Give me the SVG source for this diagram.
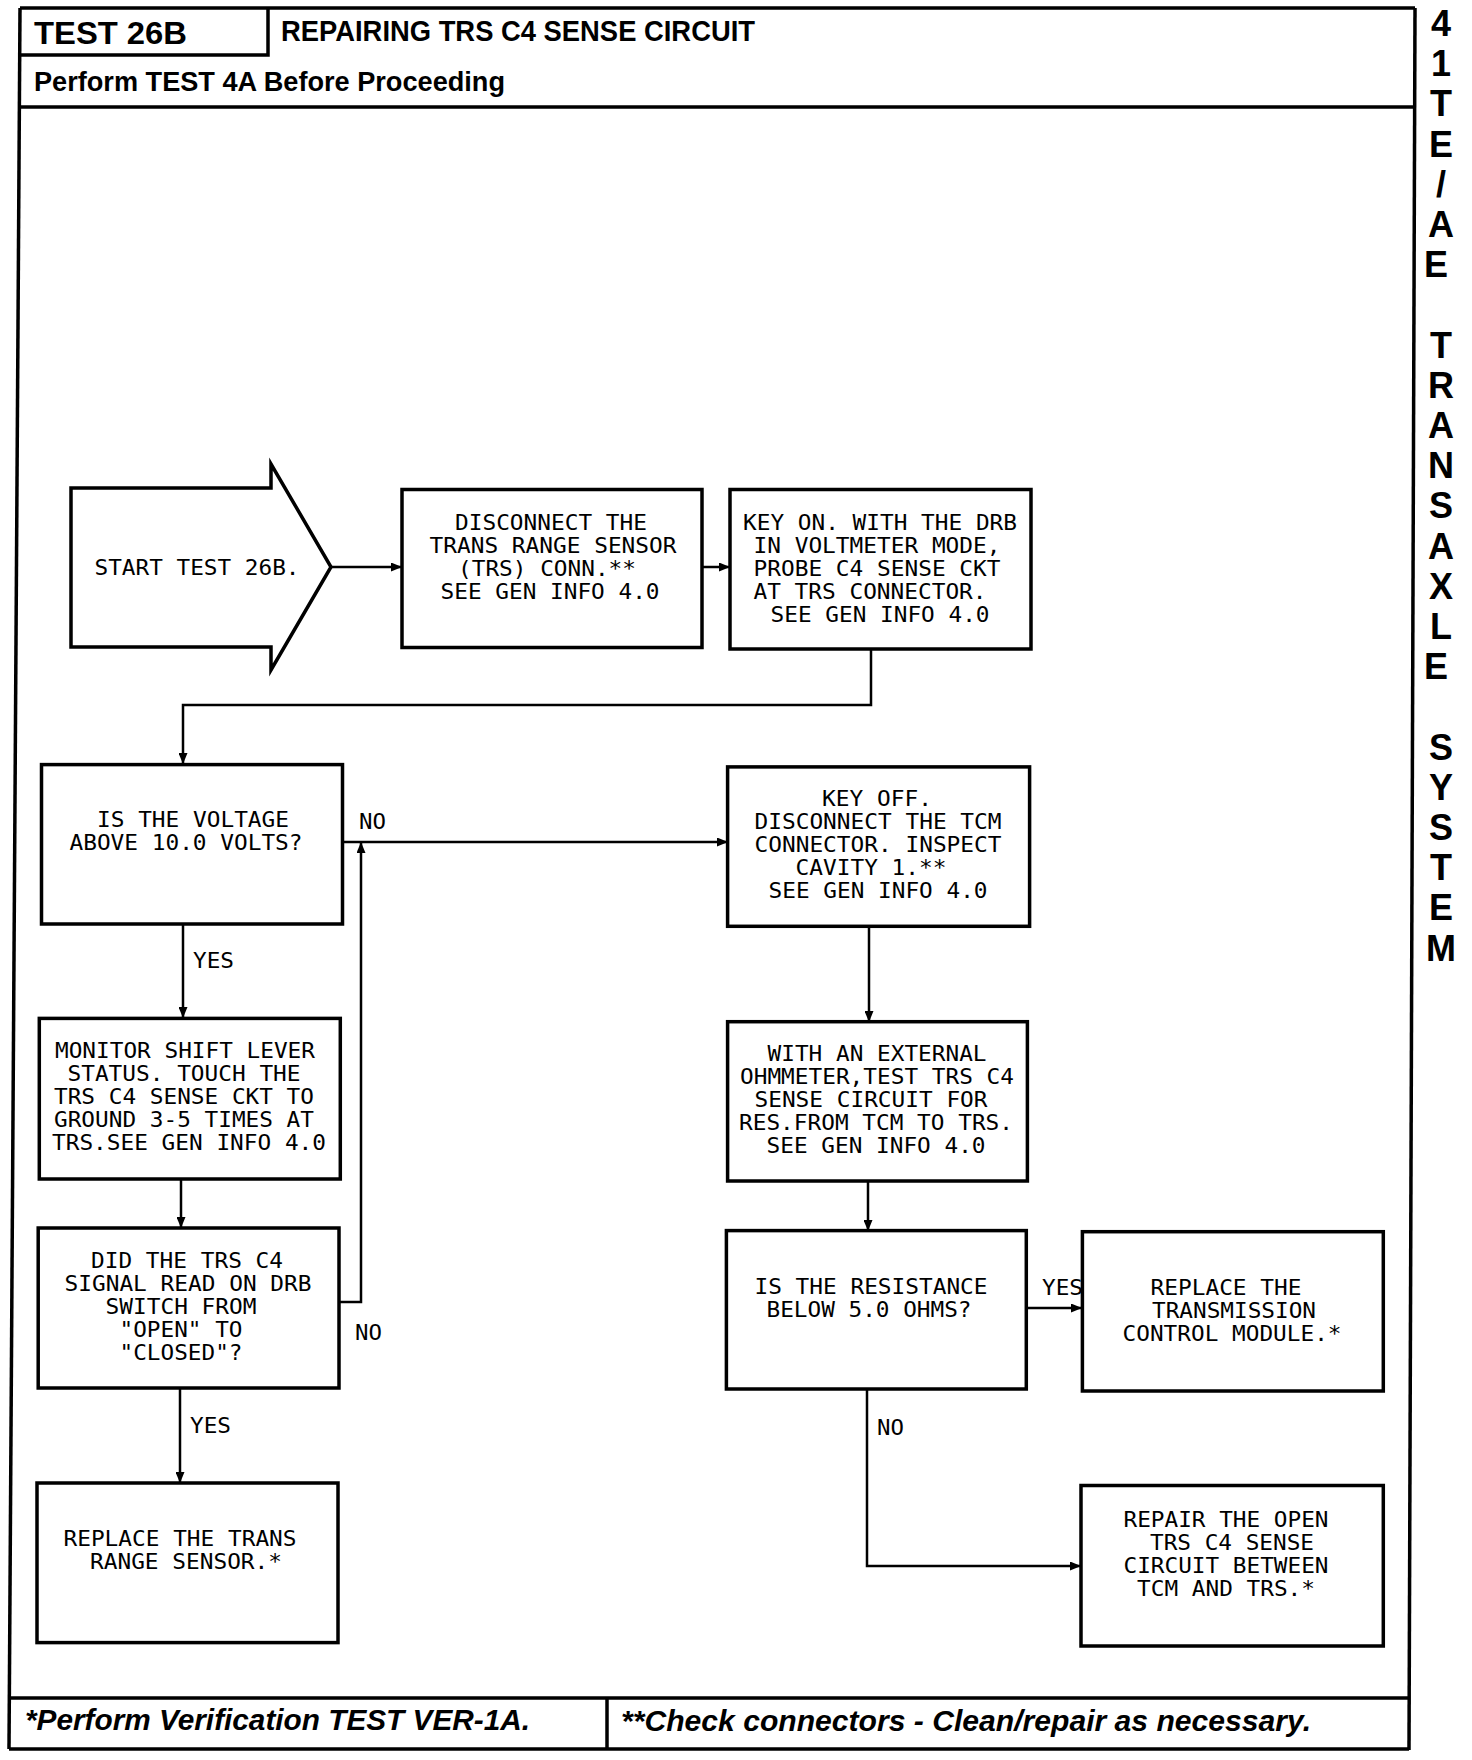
<svg xmlns="http://www.w3.org/2000/svg" width="1472" height="1760" viewBox="0 0 1472 1760">
<defs>
<style>
.frame{fill:none;stroke:#000;stroke-width:3.5}
.box{fill:#fff;stroke:#000;stroke-width:3.5}
.c{fill:none;stroke:#000;stroke-width:2.5}
.t{font-family:"DejaVu Sans Mono","Liberation Mono",monospace;font-size:22px;text-anchor:middle;fill:#000}
.l{font-family:"DejaVu Sans Mono","Liberation Mono",monospace;font-size:22px;fill:#000}
.hb{font-family:"Liberation Sans",Arial,sans-serif;font-weight:bold;fill:#000}
.fi{font-family:"Liberation Sans",Arial,sans-serif;font-weight:bold;font-style:italic;font-size:29px;fill:#000}
.side{font-family:"Liberation Sans",Arial,sans-serif;font-weight:bold;font-size:36px;text-anchor:middle;fill:#000}
</style>
<marker id="ah" markerWidth="11" markerHeight="9" refX="10" refY="4.5" orient="auto" markerUnits="userSpaceOnUse"><path d="M0,0 L11,4.5 L0,9 z" fill="#000"/></marker>
</defs>
<rect width="1472" height="1760" fill="#fff"/>

<g id="frame">
<path class="frame" d="M20,8 H1415"/>
<path class="frame" d="M20,8 L9,1749"/>
<path class="frame" d="M1415,8 L1409,1750"/>
<path class="frame" d="M268,8 V55 H20"/>
<path class="frame" stroke-width="4.5" d="M19,107 H1415"/>
<path class="frame" stroke-width="4.5" d="M9,1698 H1410"/>
<path class="frame" stroke-width="4" d="M9,1749 H1409"/>
<path class="frame" stroke-width="2.5" d="M607,1698 V1749"/>
</g>

<g id="header">
<text class="hb" x="34" y="44" font-size="32" textLength="153" lengthAdjust="spacingAndGlyphs">TEST 26B</text>
<text class="hb" x="281" y="41" font-size="29" textLength="474" lengthAdjust="spacingAndGlyphs">REPAIRING TRS C4 SENSE CIRCUIT</text>
<text class="hb" x="34" y="91" font-size="27" textLength="471" lengthAdjust="spacingAndGlyphs">Perform TEST 4A Before Proceeding</text>
</g>

<g id="side-title">
<text class="side">
<tspan x="1441" y="36">4</tspan><tspan x="1441" y="76">1</tspan><tspan x="1441" y="116">T</tspan><tspan x="1441" y="157">E</tspan><tspan x="1441" y="197">/</tspan><tspan x="1441" y="237">A</tspan><tspan x="1441" y="277">E</tspan>
<tspan x="1441" y="358">T</tspan><tspan x="1441" y="398">R</tspan><tspan x="1441" y="438">A</tspan><tspan x="1441" y="478">N</tspan><tspan x="1441" y="518">S</tspan><tspan x="1441" y="559">A</tspan><tspan x="1441" y="599">X</tspan><tspan x="1441" y="639">L</tspan><tspan x="1441" y="679">E</tspan>
<tspan x="1441" y="760">S</tspan><tspan x="1441" y="800">Y</tspan><tspan x="1441" y="840">S</tspan><tspan x="1441" y="880">T</tspan><tspan x="1441" y="920">E</tspan><tspan x="1441" y="961">M</tspan>
</text>
</g>

<g id="footer">
<text class="fi" x="25" y="1730" textLength="505" lengthAdjust="spacingAndGlyphs">*Perform Verification TEST VER-1A.</text>
<text class="fi" x="621" y="1731" textLength="690" lengthAdjust="spacingAndGlyphs">**Check connectors - Clean/repair as necessary.</text>
</g>

<g id="connectors">
<path class="c" d="M331,567 H401" marker-end="url(#ah)"/>
<path class="c" stroke-width="3.5" d="M702,567 H729" marker-end="url(#ah)"/>
<path class="c" d="M871,649 V705 H183 V763" marker-end="url(#ah)"/>
<path class="c" d="M343,842 H727" marker-end="url(#ah)"/>
<path class="c" d="M183,924 V1017" marker-end="url(#ah)"/>
<path class="c" d="M181,1179 V1227" marker-end="url(#ah)"/>
<path class="c" d="M339,1302 H361 V843" marker-end="url(#ah)"/>
<path class="c" d="M180,1388 V1482" marker-end="url(#ah)"/>
<path class="c" d="M869,926 V1021" marker-end="url(#ah)"/>
<path class="c" d="M868,1181 V1230" marker-end="url(#ah)"/>
<path class="c" stroke-width="3.5" d="M1026,1308 H1081" marker-end="url(#ah)"/>
<path class="c" stroke-width="3" d="M867,1389 V1566 H1080" marker-end="url(#ah)"/>
<text class="l" x="359" y="829" textLength="27" lengthAdjust="spacingAndGlyphs">NO</text>
<text class="l" x="193" y="968" textLength="41" lengthAdjust="spacingAndGlyphs">YES</text>
<text class="l" x="355" y="1340" textLength="27" lengthAdjust="spacingAndGlyphs">NO</text>
<text class="l" x="190" y="1433" textLength="41" lengthAdjust="spacingAndGlyphs">YES</text>
<text class="l" x="1042" y="1295" textLength="41" lengthAdjust="spacingAndGlyphs">YES</text>
<text class="l" x="877" y="1435" textLength="27" lengthAdjust="spacingAndGlyphs">NO</text>
</g>

<g id="start">
<polygon class="box" points="71,488 271,488 271,464 331,567 271,670 271,647 71,647"/>
<text class="t" x="197" y="575" textLength="205" lengthAdjust="spacingAndGlyphs">START TEST 26B.</text>
</g>

<g id="disconnect-trs">
<rect class="box" x="402" y="489.5" width="300" height="158"/>
<text class="t" x="551" y="530" textLength="192" lengthAdjust="spacingAndGlyphs">DISCONNECT THE</text>
<text class="t" x="553" y="553" textLength="247" lengthAdjust="spacingAndGlyphs">TRANS RANGE SENSOR</text>
<text class="t" x="547" y="576" textLength="178" lengthAdjust="spacingAndGlyphs">(TRS) CONN.**</text>
<text class="t" x="550" y="599" textLength="219" lengthAdjust="spacingAndGlyphs">SEE GEN INFO 4.0</text>
</g>

<g id="key-on">
<rect class="box" x="730" y="489.5" width="301" height="159.5"/>
<text class="t" x="880" y="530" textLength="274" lengthAdjust="spacingAndGlyphs">KEY ON. WITH THE DRB</text>
<text class="t" x="877" y="553" textLength="247" lengthAdjust="spacingAndGlyphs">IN VOLTMETER MODE,</text>
<text class="t" x="877" y="576" textLength="247" lengthAdjust="spacingAndGlyphs">PROBE C4 SENSE CKT</text>
<text class="t" x="870" y="599" textLength="233" lengthAdjust="spacingAndGlyphs">AT TRS CONNECTOR.</text>
<text class="t" x="880" y="622" textLength="219" lengthAdjust="spacingAndGlyphs">SEE GEN INFO 4.0</text>
</g>

<g id="voltage-check">
<rect class="box" x="41.5" y="764.6" width="301" height="159.4"/>
<text class="t" x="193" y="827" textLength="192" lengthAdjust="spacingAndGlyphs">IS THE VOLTAGE</text>
<text class="t" x="186" y="850" textLength="233" lengthAdjust="spacingAndGlyphs">ABOVE 10.0 VOLTS?</text>
</g>

<g id="key-off">
<rect class="box" x="727.6" y="766.9" width="302" height="159.4"/>
<text class="t" x="877" y="806" textLength="110" lengthAdjust="spacingAndGlyphs">KEY OFF.</text>
<text class="t" x="878" y="829" textLength="247" lengthAdjust="spacingAndGlyphs">DISCONNECT THE TCM</text>
<text class="t" x="878" y="852" textLength="247" lengthAdjust="spacingAndGlyphs">CONNECTOR. INSPECT</text>
<text class="t" x="871" y="875" textLength="151" lengthAdjust="spacingAndGlyphs">CAVITY 1.**</text>
<text class="t" x="878" y="898" textLength="219" lengthAdjust="spacingAndGlyphs">SEE GEN INFO 4.0</text>
</g>

<g id="monitor">
<rect class="box" x="39.3" y="1018.4" width="301" height="160.6"/>
<text class="t" x="185" y="1058" textLength="260" lengthAdjust="spacingAndGlyphs">MONITOR SHIFT LEVER</text>
<text class="t" x="184" y="1081" textLength="233" lengthAdjust="spacingAndGlyphs">STATUS. TOUCH THE</text>
<text class="t" x="184" y="1104" textLength="260" lengthAdjust="spacingAndGlyphs">TRS C4 SENSE CKT TO</text>
<text class="t" x="184" y="1127" textLength="260" lengthAdjust="spacingAndGlyphs">GROUND 3-5 TIMES AT</text>
<text class="t" x="189" y="1150" textLength="274" lengthAdjust="spacingAndGlyphs">TRS.SEE GEN INFO 4.0</text>
</g>

<g id="ohmmeter">
<rect class="box" x="727.6" y="1021.7" width="299.8" height="159.3"/>
<text class="t" x="877" y="1061" textLength="219" lengthAdjust="spacingAndGlyphs">WITH AN EXTERNAL</text>
<text class="t" x="877" y="1084" textLength="274" lengthAdjust="spacingAndGlyphs">OHMMETER,TEST TRS C4</text>
<text class="t" x="871" y="1107" textLength="233" lengthAdjust="spacingAndGlyphs">SENSE CIRCUIT FOR</text>
<text class="t" x="876" y="1130" textLength="274" lengthAdjust="spacingAndGlyphs">RES.FROM TCM TO TRS.</text>
<text class="t" x="876" y="1153" textLength="219" lengthAdjust="spacingAndGlyphs">SEE GEN INFO 4.0</text>
</g>

<g id="switch-check">
<rect class="box" x="38.2" y="1228" width="300.8" height="160"/>
<text class="t" x="187" y="1268" textLength="192" lengthAdjust="spacingAndGlyphs">DID THE TRS C4</text>
<text class="t" x="188" y="1291" textLength="247" lengthAdjust="spacingAndGlyphs">SIGNAL READ ON DRB</text>
<text class="t" x="181" y="1314" textLength="151" lengthAdjust="spacingAndGlyphs">SWITCH FROM</text>
<text class="t" x="181" y="1337" textLength="123" lengthAdjust="spacingAndGlyphs">"OPEN" TO</text>
<text class="t" x="181" y="1360" textLength="123" lengthAdjust="spacingAndGlyphs">"CLOSED"?</text>
</g>

<g id="resistance-check">
<rect class="box" x="726.4" y="1230.6" width="299.9" height="158.4"/>
<text class="t" x="871" y="1294" textLength="233" lengthAdjust="spacingAndGlyphs">IS THE RESISTANCE</text>
<text class="t" x="869" y="1317" textLength="205" lengthAdjust="spacingAndGlyphs">BELOW 5.0 OHMS?</text>
</g>

<g id="replace-tcm">
<rect class="box" x="1082.4" y="1231.7" width="300.9" height="159.3"/>
<text class="t" x="1226" y="1295" textLength="151" lengthAdjust="spacingAndGlyphs">REPLACE THE</text>
<text class="t" x="1234" y="1318" textLength="164" lengthAdjust="spacingAndGlyphs">TRANSMISSION</text>
<text class="t" x="1232" y="1341" textLength="219" lengthAdjust="spacingAndGlyphs">CONTROL MODULE.*</text>
</g>

<g id="replace-trs">
<rect class="box" x="37" y="1483" width="301" height="159.6"/>
<text class="t" x="180" y="1546" textLength="233" lengthAdjust="spacingAndGlyphs">REPLACE THE TRANS</text>
<text class="t" x="186" y="1569" textLength="192" lengthAdjust="spacingAndGlyphs">RANGE SENSOR.*</text>
</g>

<g id="repair-circuit">
<rect class="box" x="1081" y="1485.5" width="302.3" height="160.5"/>
<text class="t" x="1226" y="1527" textLength="205" lengthAdjust="spacingAndGlyphs">REPAIR THE OPEN</text>
<text class="t" x="1232" y="1550" textLength="164" lengthAdjust="spacingAndGlyphs">TRS C4 SENSE</text>
<text class="t" x="1226" y="1573" textLength="205" lengthAdjust="spacingAndGlyphs">CIRCUIT BETWEEN</text>
<text class="t" x="1226" y="1596" textLength="178" lengthAdjust="spacingAndGlyphs">TCM AND TRS.*</text>
</g>
</svg>
